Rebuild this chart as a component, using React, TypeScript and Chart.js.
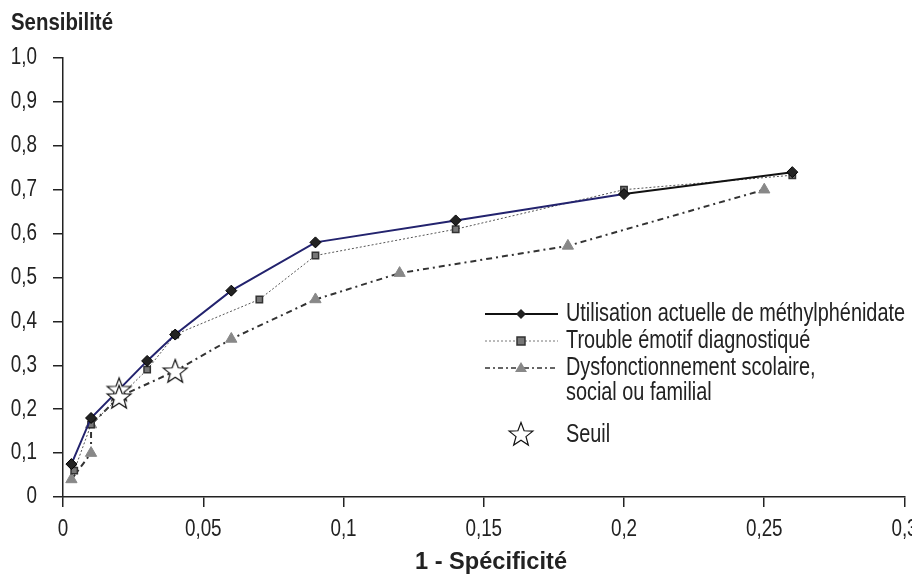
import React, { useEffect, useRef } from "react";
import { Chart, registerables } from "chart.js";

Chart.register(...registerables);

const utilX = [0.003, 0.01, 0.03, 0.04, 0.06, 0.09, 0.14, 0.2, 0.26];
const utilY = [0.075, 0.18, 0.31, 0.37, 0.47, 0.58, 0.63, 0.69, 0.74];

const troubleX = [0.004, 0.01, 0.03, 0.04, 0.07, 0.09, 0.14, 0.2, 0.26];
const troubleY = [0.06, 0.165, 0.29, 0.37, 0.45, 0.55, 0.61, 0.7, 0.733];

const dysX = [0.003, 0.01, 0.01, 0.02, 0.04, 0.06, 0.09, 0.12, 0.18, 0.25];
const dysY = [0.04, 0.1, 0.165, 0.228, 0.287, 0.36, 0.45, 0.51, 0.572, 0.7];

const seuilX = [0.02, 0.02, 0.04];
const seuilY = [0.245, 0.228, 0.287];

const seriesLabels = [
  "Utilisation actuelle de méthylphénidate",
  "Trouble émotif diagnostiqué",
  "Dysfonctionnement scolaire,|social ou familial",
  "Seuil",
];
const xTitle = "1 - Spécificité";
const yTitle = "Sensibilité";

const FAMILY = "'Liberation Sans', Arial, sans-serif";
const NAVY = "#23236e";
const TEXT = "#222";
const COND = 0.82;

function zip(xs: number[], ys: number[]) {
  return xs.map((x, i) => ({ x, y: ys[i] }));
}

function makeStar(size: number) {
  const c = document.createElement("canvas");
  c.width = size;
  c.height = size;
  const ctx = c.getContext("2d")!;
  const cx = size / 2, cy = size / 2 + 1;
  const R = size / 2 - 1.5, r = R * 0.42;
  ctx.beginPath();
  for (let i = 0; i < 10; i++) {
    const a = -Math.PI / 2 + (i * Math.PI) / 5;
    const rad = i % 2 === 0 ? R : r;
    const px = cx + rad * Math.cos(a), py = cy + rad * Math.sin(a);
    if (i === 0) ctx.moveTo(px, py); else ctx.lineTo(px, py);
  }
  ctx.closePath();
  ctx.fillStyle = "#fff";
  ctx.fill();
  ctx.strokeStyle = "#111";
  ctx.lineWidth = 1.2;
  ctx.stroke();
  return c;
}

function condText(ctx: CanvasRenderingContext2D, text: string, x: number, y: number, align: "left" | "center" | "right", font: string, sx: number) {
  ctx.save();
  ctx.font = font;
  ctx.textBaseline = "middle";
  ctx.textAlign = align;
  ctx.translate(x, y);
  ctx.scale(sx, 1);
  ctx.fillText(text, 0, 0);
  ctx.restore();
}

function fitScale(ctx: CanvasRenderingContext2D, text: string, font: string, width: number) {
  ctx.save();
  ctx.font = font;
  const w = ctx.measureText(text).width;
  ctx.restore();
  return width / w;
}

export default function App() {
  const ref = useRef<HTMLCanvasElement>(null);
  useEffect(() => {
    document.body.style.margin = "0";
    const star = makeStar(28);
    const fmtX = (v: number) => (v === 0 ? "0" : String(+v.toFixed(2)).replace(".", ","));
    const fmtY = (v: number) => (v === 0 ? "0" : v.toFixed(1).replace(".", ","));

    const textPlugin = {
      id: "customText",
      afterDraw(chart: any) {
        const ctx: CanvasRenderingContext2D = chart.ctx;
        ctx.save();
        ctx.fillStyle = TEXT;
        const tickFont = `23px ${FAMILY}`;
        const xs = chart.scales.x, ys = chart.scales.y;
        xs.ticks.forEach((t: any) => {
          condText(ctx, fmtX(t.value), xs.getPixelForValue(t.value), 530, "center", tickFont, COND);
        });
        ys.ticks.forEach((t: any) => {
          condText(ctx, fmtY(t.value), 37, ys.getPixelForValue(t.value), "right", tickFont, COND);
        });
        const bold = `bold 23px ${FAMILY}`;
        condText(ctx, yTitle, 11, 24, "left", bold, fitScale(ctx, yTitle, bold, 102));
        condText(ctx, xTitle, 491, 563, "center", bold, fitScale(ctx, xTitle, bold, 152));
        // legend
        const lx0 = 485, lx1 = 558, mx = 521, tx = 566;
        const rows = [314, 341, 368];
        ctx.strokeStyle = "#111";
        ctx.lineWidth = 2;
        ctx.setLineDash([]);
        ctx.beginPath(); ctx.moveTo(lx0, rows[0]); ctx.lineTo(lx1, rows[0]); ctx.stroke();
        ctx.fillStyle = "#222";
        ctx.beginPath();
        ctx.moveTo(mx, rows[0] - 5); ctx.lineTo(mx + 5, rows[0]); ctx.lineTo(mx, rows[0] + 5); ctx.lineTo(mx - 5, rows[0]);
        ctx.closePath(); ctx.fill();
        ctx.strokeStyle = "#777";
        ctx.lineWidth = 1;
        ctx.setLineDash([2, 2]);
        ctx.beginPath(); ctx.moveTo(lx0, rows[1]); ctx.lineTo(lx1, rows[1]); ctx.stroke();
        ctx.setLineDash([]);
        ctx.fillStyle = "#777"; ctx.strokeStyle = "#333"; ctx.lineWidth = 1.5;
        ctx.fillRect(mx - 4, rows[1] - 4, 8, 8); ctx.strokeRect(mx - 4, rows[1] - 4, 8, 8);
        ctx.strokeStyle = "#333";
        ctx.lineWidth = 1.5;
        ctx.setLineDash([5, 3, 2, 3]);
        ctx.beginPath(); ctx.moveTo(lx0, rows[2]); ctx.lineTo(lx1, rows[2]); ctx.stroke();
        ctx.setLineDash([]);
        ctx.fillStyle = "#888";
        ctx.beginPath();
        ctx.moveTo(mx, rows[2] - 6); ctx.lineTo(mx + 6, rows[2] + 4); ctx.lineTo(mx - 6, rows[2] + 4);
        ctx.closePath(); ctx.fill();
        ctx.drawImage(star, mx - 14, 434 - 14);
        ctx.fillStyle = TEXT;
        const lf = `25px ${FAMILY}`;
        const ls = fitScale(ctx, seriesLabels[0], lf, 339);
        const parts = seriesLabels[2].split("|");
        condText(ctx, seriesLabels[0], tx, rows[0], "left", lf, ls);
        condText(ctx, seriesLabels[1], tx, rows[1], "left", lf, ls);
        condText(ctx, parts[0], tx, rows[2], "left", lf, ls);
        condText(ctx, parts[1], tx, 393, "left", lf, ls);
        condText(ctx, seriesLabels[3], tx, 435, "left", lf, ls);
        ctx.restore();
      },
    };

    const chart = new Chart(ref.current!, {
      type: "scatter",
      data: {
        datasets: [
          {
            label: "seuil",
            data: zip(seuilX, seuilY),
            pointStyle: star as any,
            showLine: false,
            order: 0,
          },
          {
            label: seriesLabels[0],
            data: zip(utilX, utilY),
            showLine: true,
            borderColor: NAVY,
            borderWidth: 2,
            segment: {
              borderColor: (c: any) => (c.p0DataIndex >= 7 ? "#111" : NAVY),
            },
            pointStyle: "rectRot",
            pointRadius: 5.5,
            pointBackgroundColor: "#222",
            pointBorderColor: "#000",
            pointBorderWidth: 1,
            order: 1,
          },
          {
            label: seriesLabels[1],
            data: zip(troubleX, troubleY),
            showLine: true,
            borderColor: "#555",
            borderWidth: 1,
            borderDash: [2, 2],
            pointStyle: "rect",
            pointRadius: 4.5,
            pointBackgroundColor: "#777",
            pointBorderColor: "#333",
            pointBorderWidth: 1.5,
            order: 2,
          },
          {
            label: seriesLabels[2],
            data: zip(dysX, dysY),
            showLine: true,
            borderColor: "#333",
            borderWidth: 2,
            borderDash: [6, 4, 2, 4],
            pointStyle: "triangle",
            pointRadius: 6.5,
            pointBackgroundColor: "#888",
            pointBorderColor: "#888",
            pointBorderWidth: 1,
            order: 3,
          },
        ],
      },
      options: {
        animation: false,
        responsive: false,
        maintainAspectRatio: false,
        layout: { padding: { top: 58, right: 7, left: 0, bottom: 0 } },
        plugins: { legend: { display: false }, tooltip: { enabled: false } },
        scales: {
          x: {
            type: "linear",
            min: 0,
            max: 0.3,
            afterFit: (s: any) => { s.height = 78; s.paddingRight = 0; s.paddingLeft = 0; },
            ticks: { stepSize: 0.05, display: false },
            grid: { drawOnChartArea: false, drawTicks: true, tickLength: 10, color: "#222", lineWidth: 1.5 },
            border: { display: true, color: "#222", width: 1.5 },
          },
          y: {
            type: "linear",
            min: 0,
            max: 1,
            afterFit: (s: any) => { s.width = 63; },
            ticks: { stepSize: 0.1, display: false },
            grid: { drawOnChartArea: false, drawTicks: true, tickLength: 10, color: "#222", lineWidth: 1.5 },
            border: { display: true, color: "#222", width: 1.5 },
          },
        },
      },
      plugins: [textPlugin],
    } as any);
    return () => chart.destroy();
  }, []);
  return <canvas ref={ref} width={912} height={575} style={{ display: "block" }} />;
}
